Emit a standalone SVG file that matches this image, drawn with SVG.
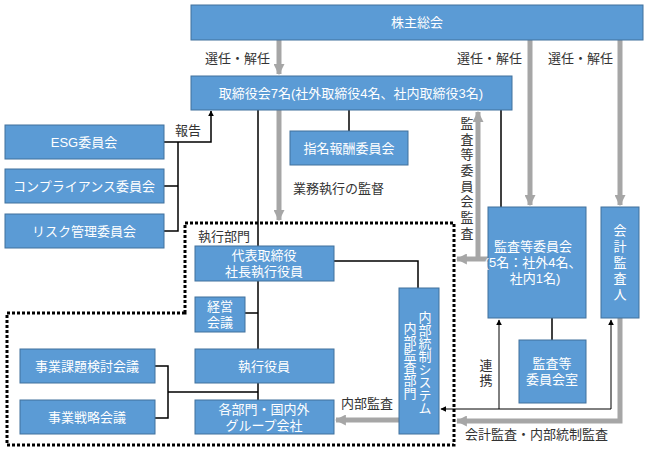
<svg xmlns="http://www.w3.org/2000/svg" width="648" height="452" viewBox="0 0 648 452">
<defs>
<style>
.box{fill:#5B9BD5;stroke:#41719C;stroke-width:1}
.bt{fill:#fff;font-family:"Liberation Sans","Noto Sans CJK JP",sans-serif;font-size:13px;text-anchor:middle}
.lb{fill:#333;font-family:"Noto Sans CJK JP","Noto Sans",sans-serif;font-size:13px}
.vt{font-family:"Noto Sans CJK JP","Noto Sans",sans-serif;font-size:13px;writing-mode:vertical-rl;text-anchor:start}
.gr{fill:none;stroke:#A6A6A6;stroke-width:5}
.bk{fill:none;stroke:#000;stroke-width:1.5}
.th{fill:none;stroke:#000;stroke-width:1}
.dot{fill:none;stroke:#000;stroke-width:3;stroke-dasharray:3 2}
</style>
<marker id="ga" viewBox="0 0 10 10" refX="9" refY="5" markerWidth="2.2" markerHeight="2.2" orient="auto" markerUnits="strokeWidth"><path d="M0,0L10,5L0,10z" fill="#A6A6A6"/></marker>
<marker id="ba" viewBox="0 0 10 10" refX="9" refY="5" markerWidth="6" markerHeight="6" orient="auto" markerUnits="userSpaceOnUse"><path d="M0,0L10,5L0,10z" fill="#000"/></marker>
</defs>
<rect width="648" height="452" fill="#fff"/>

<g id="boundary">
<path class="dot" d="M185,313 V223 H454 V445 H7 V313 Z"/>
<text class="lb" x="198" y="241">執行部門</text>
</g>

<g id="connectors">
<path class="gr" d="M279,40 V74" marker-end="url(#ga)"/>
<path class="gr" d="M530,40 V205" marker-end="url(#ga)"/>
<path class="gr" d="M620,40 V205" marker-end="url(#ga)"/>
<path class="gr" d="M279,110 V220" marker-end="url(#ga)"/>
<path class="gr" d="M488,259 H457" marker-end="url(#ga)"/>
<path class="gr" d="M478,259 V112" marker-end="url(#ga)"/>
<path class="gr" d="M620,318 V421 H457" marker-end="url(#ga)"/>
<path class="gr" d="M399,420 H336" marker-end="url(#ga)"/>
<path class="bk" d="M164,142 H211 V111" marker-end="url(#ba)"/>
<path class="bk" d="M178,142 V231 H164 M178,186 H164"/>
<path class="bk" d="M258,110 V349 M245,313 H258 M258,383 V400 M258,392 H168 M155,366 H168 V418 H155"/>
<path class="bk" d="M349,110 V131"/>
<path class="bk" d="M501,110 V207"/>
<path class="bk" d="M334,261 H418 V288"/>
<path class="bk" d="M552,318 V340"/>
<path class="th" d="M611,409 H441" marker-end="url(#ba)"/>
<path class="th" d="M611,409 V320" marker-end="url(#ba)"/>
<path class="th" d="M499,409 V320" marker-end="url(#ba)"/>
<text class="lb" x="205" y="63">選任・解任</text>
<text class="lb" x="457" y="63">選任・解任</text>
<text class="lb" x="548" y="63">選任・解任</text>
<text class="lb" x="175" y="135">報告</text>
<text class="lb" x="293" y="193">業務執行の監督</text>
<text class="lb" x="341" y="408">内部監査</text>
<text class="lb" x="465" y="439">会計監査・内部統制監査</text>
<text class="vt" x="467" y="116.5" fill="#333" letter-spacing="2.7">監査等委員会監査</text>
<text class="vt" x="486" y="359" fill="#333" letter-spacing="2">連携</text>
</g>

<g id="n-shareholders"><rect class="box" x="191" y="5" width="452" height="35"/><text class="bt" x="417" y="27">株主総会</text></g>
<g id="n-board"><rect class="box" x="191" y="76" width="321" height="34"/><text class="bt" x="351" y="98">取締役会7名(社外取締役4名、社内取締役3名)</text></g>
<g id="n-esg"><rect class="box" x="5" y="125" width="159" height="34"/><text class="bt" x="84" y="147">ESG委員会</text></g>
<g id="n-compliance"><rect class="box" x="5" y="169" width="159" height="34"/><text class="bt" x="84" y="191">コンプライアンス委員会</text></g>
<g id="n-risk"><rect class="box" x="5" y="214" width="159" height="34"/><text class="bt" x="84" y="236">リスク管理委員会</text></g>
<g id="n-nomination"><rect class="box" x="290" y="131" width="118" height="34"/><text class="bt" x="349" y="153">指名報酬委員会</text></g>
<g id="n-audit-committee"><rect class="box" x="488" y="207" width="98" height="111"/><text class="bt"><tspan x="533" y="251">監査等委員会</tspan><tspan x="533" y="267">(5名：社外4名、</tspan><tspan x="535" y="283">社内1名)</tspan></text></g>
<g id="n-auditor"><rect class="box" x="601" y="207" width="38" height="111"/><text class="vt" x="620" y="223.5" fill="#fff" letter-spacing="3">会計監査人</text></g>
<g id="n-audit-office"><rect class="box" x="519" y="340" width="67" height="63"/><text class="bt"><tspan x="552" y="368">監査等</tspan><tspan x="552" y="384">委員会室</tspan></text></g>
<g id="n-internal"><rect class="box" x="399" y="288" width="40" height="146"/><text class="vt" x="425" y="310.5" fill="#fff">内部統制システム</text><text class="vt" x="410" y="321.5" fill="#fff">内部監査部門</text></g>
<g id="n-ceo"><rect class="box" x="195" y="246" width="139" height="35"/><text class="bt"><tspan x="264" y="260">代表取締役</tspan><tspan x="264" y="276">社長執行役員</tspan></text></g>
<g id="n-mgmt"><rect class="box" x="195" y="297" width="50" height="35"/><text class="bt"><tspan x="220" y="311">経営</tspan><tspan x="220" y="327">会議</tspan></text></g>
<g id="n-officers"><rect class="box" x="195" y="349" width="139" height="34"/><text class="bt" x="264" y="371">執行役員</text></g>
<g id="n-divisions"><rect class="box" x="195" y="400" width="139" height="34"/><text class="bt"><tspan x="264" y="414">各部門・国内外</tspan><tspan x="264" y="430">グループ会社</tspan></text></g>
<g id="n-issues"><rect class="box" x="20" y="349" width="135" height="34"/><text class="bt" x="87" y="371">事業課題検討会議</text></g>
<g id="n-strategy"><rect class="box" x="20" y="400" width="135" height="34"/><text class="bt" x="87" y="422">事業戦略会議</text></g>
</svg>
